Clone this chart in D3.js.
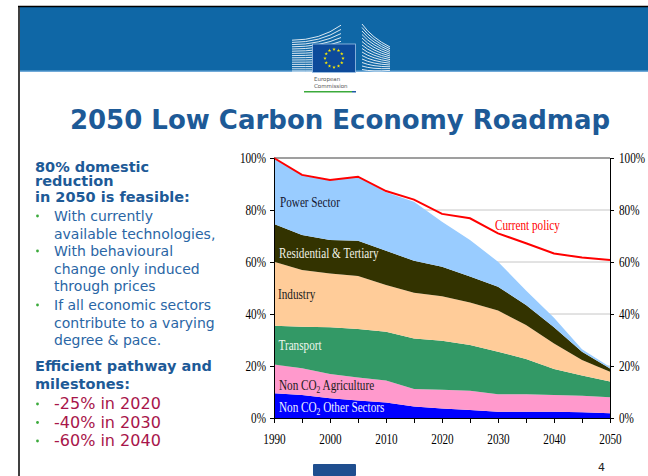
<!DOCTYPE html>
<html lang="en">
<head>
<meta charset="UTF-8">
<title>2050 Low Carbon Economy Roadmap</title>
<script src="https://d3js.org/d3.v7.min.js"></script>
<style>
  body { margin: 0; background: #fff; }
  svg { display: block; }
  .serif { font-family: "Liberation Serif", "Times New Roman", serif; }
  .sans { font-family: "DejaVu Sans", Verdana, sans-serif; }
</style>
</head>
<body>
<div id="chart"></div>
<script>
// data (share of 1990 emissions, %)
var years = [1990, 1995, 2000, 2005, 2010, 2015, 2020, 2025, 2030, 2035, 2040, 2045, 2050];
var sectors = ["Non CO2 Other Sectors", "Non CO2 Agriculture", "Transport", "Industry", "Residential & Tertiary", "Power Sector"];
var otherSectors = [9.5, 8.8, 7.6, 6.7, 6.0, 4.4, 3.7, 3.1, 2.4, 2.4, 2.4, 2.2, 1.8];
var agriculture  = [11.1, 10.3, 9.3, 8.9, 8.4, 6.8, 7.2, 7.4, 6.7, 6.7, 6.4, 6.4, 6.2];
var transport    = [14.9, 16.0, 18.0, 18.6, 18.8, 19.4, 18.8, 17.6, 16.4, 13.6, 10.0, 7.7, 6.0];
var industry     = [24.6, 21.8, 20.7, 20.4, 18.0, 17.6, 17.1, 16.3, 15.8, 13.1, 9.9, 6.0, 3.8];
var residential  = [14.5, 13.5, 12.9, 13.6, 13.1, 12.3, 11.4, 10.0, 9.2, 7.7, 6.2, 3.2, 1.2];
var power        = [25.4, 23.1, 23.0, 24.6, 22.5, 22.7, 17.3, 14.1, 9.6, 5.5, 3.7, 0.9, 0.6];
var currentPolicy = [100, 93.5, 91.5, 92.8, 87.3, 84.0, 78.5, 76.8, 71.0, 67.2, 63.3, 61.7, 60.8];
var yTicks = [0, 20, 40, 60, 80, 100];
var xTicks = [1990, 1995, 2000, 2005, 2010, 2015, 2020, 2025, 2030, 2035, 2040, 2045, 2050];

var colors = ["#0000ff", "#ff99cc", "#339966", "#ffcc99", "#333300", "#99ccff"];

var svg = d3.select("#chart").append("svg")
  .attr("width", 648)
  .attr("height", 476);

// ---- slide frame and banner ----
svg.append("rect").attr("x", 20).attr("y", 7).attr("width", 628).attr("height", 65).attr("fill", "#0f67a6");
svg.append("rect").attr("x", 20).attr("y", 70.5).attr("width", 628).attr("height", 1.5).attr("fill", "#6fa9d8");
svg.append("line").attr("x1", 18).attr("x2", 648).attr("y1", 6.5).attr("y2", 6.5).attr("stroke", "#000").attr("stroke-width", 1.5);
svg.append("line").attr("x1", 19).attr("x2", 19).attr("y1", 6).attr("y2", 476).attr("stroke", "#000").attr("stroke-width", 1.5);

// logo: stylised buildings + flag
var logo = svg.append("g");
for (var i = 0; i < 15; i++) {
  var y0 = 71 - i * 2.2;
  var y1 = y0 - Math.pow(i / 14, 2) * 15;
  logo.append("path")
    .attr("d", "M292," + y0 + " Q320," + y0 + " 341," + y1)
    .attr("fill", "none").attr("stroke", "#fff").attr("stroke-width", 1).attr("opacity", 0.85);
}
for (var j = 0; j < 14; j++) {
  logo.append("path")
    .attr("d", "M362," + (24 + j * 3.5) + " Q372," + (38 + j * 2.6) + " 390," + (47 + j * 1.8))
    .attr("fill", "none").attr("stroke", "#fff").attr("stroke-width", 1).attr("opacity", 0.85);
}
logo.append("rect").attr("x", 312.5).attr("y", 44).attr("width", 43).attr("height", 28.5)
  .attr("fill", "#0d4b9b").attr("stroke", "#9ec3e6").attr("stroke-width", 0.8);
var stars = d3.range(12);
logo.selectAll("path.star").data(stars).enter().append("path")
  .attr("class", "star")
  .attr("d", d3.symbol(d3.symbolStar, 4))
  .attr("transform", function(d) {
    var a = d / 12 * 2 * Math.PI;
    return "translate(" + (334 + 9 * Math.sin(a)) + "," + (58.3 - 9 * Math.cos(a)) + ")";
  })
  .attr("fill", "#ffed00");
logo.append("text").attr("class", "sans").attr("x", 314).attr("y", 81).attr("font-size", 5.5).attr("fill", "#555").text("European");
logo.append("text").attr("class", "sans").attr("x", 314).attr("y", 87.5).attr("font-size", 5.5).attr("fill", "#555").text("Commission");
logo.append("rect").attr("x", 304).attr("y", 91).attr("width", 48).attr("height", 1.5).attr("fill", "#3baa3b");
logo.append("rect").attr("x", 352).attr("y", 91).attr("width", 4).attr("height", 1.5).attr("fill", "#1f5ba5");

// ---- title ----
svg.append("text").attr("class", "sans")
  .attr("x", 340).attr("y", 129)
  .attr("text-anchor", "middle")
  .attr("font-size", 26).attr("font-weight", "bold")
  .attr("fill", "#1d5a97")
  .text("2050 Low Carbon Economy Roadmap");

// ---- left text panel ----
var panel = [
  { t: "80% domestic", y: 171.5, kind: "head" },
  { t: "reduction", y: 186, kind: "head" },
  { t: "in 2050 is feasible:", y: 202, kind: "head" },
  { t: "With currently", y: 221, kind: "body", bullet: true },
  { t: "available technologies,", y: 238.5, kind: "body" },
  { t: "With behavioural", y: 256, kind: "body", bullet: true },
  { t: "change only induced", y: 273.5, kind: "body" },
  { t: "through prices", y: 291, kind: "body" },
  { t: "If all economic sectors", y: 310, kind: "body", bullet: true },
  { t: "contribute to a varying", y: 327.5, kind: "body" },
  { t: "degree & pace.", y: 344.5, kind: "body" },
  { t: "Efficient pathway and", y: 371, kind: "head" },
  { t: "milestones:", y: 389, kind: "head" },
  { t: "-25% in 2020", y: 409, kind: "red", bullet: true },
  { t: "-40% in 2030", y: 427.5, kind: "red", bullet: true },
  { t: "-60% in 2040", y: 446, kind: "red", bullet: true }
];
var pg = svg.append("g").attr("class", "sans");
panel.forEach(function(p) {
  var isHead = p.kind === "head";
  pg.append("text")
    .attr("x", isHead ? 35 : 54)
    .attr("y", p.y)
    .attr("font-size", isHead ? 14.5 : (p.kind === "red" ? 16 : 14))
    .attr("font-weight", isHead ? "bold" : "normal")
    .attr("fill", isHead ? "#1d5a97" : (p.kind === "red" ? "#a8154a" : "#2a66a5"))
    .text(p.t);
  if (p.bullet) {
    pg.append("circle").attr("cx", 37.5).attr("cy", p.y - 5).attr("r", 1.4).attr("fill", "#3baa3b");
  }
});

// ---- chart ----
var x = d3.scaleLinear().domain([1990, 2050]).range([274, 610]);
var y = d3.scaleLinear().domain([0, 100]).range([418, 158]);

var table = years.map(function(yr, i) {
  return {
    year: yr,
    "Non CO2 Other Sectors": otherSectors[i],
    "Non CO2 Agriculture": agriculture[i],
    "Transport": transport[i],
    "Industry": industry[i],
    "Residential & Tertiary": residential[i],
    "Power Sector": power[i]
  };
});
var series = d3.stack().keys(sectors)(table);

// gridlines
svg.append("g").selectAll("line").data(yTicks.filter(function(d) { return d > 0 && d < 100; }))
  .enter().append("line")
  .attr("x1", x(1990)).attr("x2", x(2050))
  .attr("y1", function(d) { return y(d); }).attr("y2", function(d) { return y(d); })
  .attr("stroke", "#c6c6c6").attr("stroke-width", 1);
svg.append("line")
  .attr("x1", x(1990)).attr("x2", x(2050))
  .attr("y1", y(100)).attr("y2", y(100))
  .attr("stroke", "#7f7f7f").attr("stroke-width", 1.5);

var area = d3.area()
  .x(function(d) { return x(d.data.year); })
  .y0(function(d) { return y(d[0]); })
  .y1(function(d) { return y(d[1]); });

svg.append("g").selectAll("path").data(series).enter().append("path")
  .attr("d", area)
  .attr("fill", function(d, i) { return colors[i]; });

var line = d3.line()
  .x(function(d, i) { return x(years[i]); })
  .y(function(d) { return y(d); });
svg.append("path").datum(currentPolicy)
  .attr("d", line)
  .attr("fill", "none")
  .attr("stroke", "#ff0000")
  .attr("stroke-width", 2);

// narrow serif look of the original labels
function squeeze(sel) {
  sel.each(function() {
    var t = d3.select(this);
    var tx = +t.attr("x") || 0;
    t.attr("transform", "translate(" + tx + ",0) scale(0.8,1) translate(" + (-tx) + ",0)");
  });
}

var fmt = function(d) { return d + "%"; };
var gl = svg.append("g").attr("transform", "translate(" + x(1990) + ",0)")
  .call(d3.axisLeft(y).tickValues(yTicks).tickFormat(fmt).tickSize(4).tickPadding(4).tickSizeOuter(0));
var gr = svg.append("g").attr("transform", "translate(" + x(2050) + ",0)")
  .call(d3.axisRight(y).tickValues(yTicks).tickFormat(fmt).tickSize(4).tickPadding(5).tickSizeOuter(0));
var gb = svg.append("g").attr("transform", "translate(0," + y(0) + ")")
  .call(d3.axisBottom(x).tickValues(xTicks)
    .tickFormat(function(d) { return d % 10 === 0 ? d : ""; })
    .tickSize(5).tickPadding(11).tickSizeOuter(0));

[gl, gr, gb].forEach(function(g) {
  g.selectAll("text").attr("class", "serif").attr("font-size", 14).attr("fill", "#000");
  g.selectAll("path, line").attr("stroke", "#000");
  squeeze(g.selectAll("text"));
});

// sector labels inside the areas
var labels = [
  { parts: ["Power Sector"], x: 280, y: 207.5, c: "#141430" },
  { parts: ["Residential & Tertiary"], x: 279, y: 258.5, c: "#f2f2e6" },
  { parts: ["Industry"], x: 278, y: 299.5, c: "#1a1a1a" },
  { parts: ["Transport"], x: 278.5, y: 350.5, c: "#eef7ee" },
  { parts: ["Non CO", "2", " Agriculture"], x: 279, y: 390, c: "#1a1a1a" },
  { parts: ["Non CO", "2", " Other Sectors"], x: 279, y: 412.5, c: "#f0f0ff" }
];
var lg = svg.append("g");
labels.forEach(function(l) {
  var t = lg.append("text").attr("class", "serif")
    .attr("x", l.x).attr("y", l.y)
    .attr("font-size", 14).attr("fill", l.c);
  l.parts.forEach(function(p, k) {
    var ts = t.append("tspan").text(p);
    if (k === 1) ts.attr("font-size", 9.5).attr("dy", 3);
    if (k === 2) ts.attr("dy", -3);
  });
});
lg.append("text").attr("class", "serif")
  .attr("x", 495).attr("y", 230.5)
  .attr("font-size", 14).attr("fill", "#ff0000")
  .text("Current policy");
squeeze(lg.selectAll("text"));

// ---- footer ----
svg.append("rect").attr("x", 313).attr("y", 464).attr("width", 43).attr("height", 12).attr("rx", 1).attr("fill", "#1f4e8f");
svg.append("text").attr("class", "sans").attr("x", 598).attr("y", 470.5)
  .attr("font-size", 11).attr("fill", "#222").text("4");
</script>
</body>
</html>
